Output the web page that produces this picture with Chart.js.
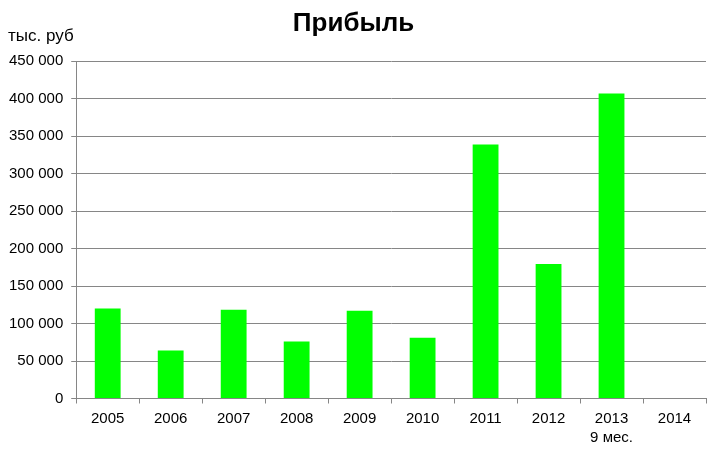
<!DOCTYPE html>
<html>
<head>
<meta charset="utf-8">
<script src="https://cdn.jsdelivr.net/npm/chart.js@4"></script>
<style>
  html, body { margin: 0; padding: 0; background: #fff; }
  #wrap { width: 720px; height: 457px; }
</style>
</head>
<body>
<div id="wrap"><canvas id="chart"></canvas></div>
<script>
var years = ['2005', '2006', '2007', '2008', '2009', '2010', '2011', '2012', ['2013', '9 мес.'], '2014'];
var profit = [120000, 64000, 118500, 76000, 117000, 81000, 339000, 179500, 407000, 0];
var unitLabel = 'тыс. руб';
var chartTitle = 'Прибыль';

var gridColor = '#868686';
var fontFamily = '"Liberation Sans", Arial, sans-serif';

// подпись единиц над осью Y
var unitPlugin = {
    id: 'unitLabel',
    afterDraw: function (chart) {
        var ctx = chart.ctx;
        ctx.save();
        ctx.font = '17px ' + fontFamily;
        ctx.fillStyle = '#000';
        ctx.textAlign = 'left';
        ctx.textBaseline = 'middle';
        ctx.fillText(unitLabel, 8, chart.chartArea.top - 25);
        ctx.restore();
    }
};

function fmt(v) {
    return String(v).replace(/\B(?=(\d{3})+(?!\d))/g, ' ');
}

var ctx = document.getElementById('chart');
var myChart = new Chart(ctx, {
    type: 'bar',
    data: {
        labels: years,
        datasets: [{
            label: chartTitle,
            data: profit,
            backgroundColor: '#00ff00',
            borderWidth: 0,
            barPercentage: 0.41,
            categoryPercentage: 1
        }]
    },
    options: {
        responsive: true,
        maintainAspectRatio: false,
        animation: false,
        layout: { padding: { left: 1, right: 14, top: 0, bottom: 4 } },
        plugins: {
            legend: { display: false },
            tooltip: { enabled: false },
            title: {
                display: true,
                text: chartTitle,
                color: '#000',
                font: { family: fontFamily, size: 26, weight: 'bold' },
                padding: { top: 8, bottom: 22 }
            }
        },
        scales: {
            x: {
                grid: {
                    drawOnChartArea: false,
                    drawTicks: true,
                    tickLength: 5,
                    color: gridColor,
                    offset: true
                },
                border: { color: gridColor },
                ticks: {
                    color: '#000',
                    padding: 6,
                    maxRotation: 0,
                    autoSkip: false,
                    font: { family: fontFamily, size: 15, lineHeight: 1.25 }
                }
            },
            y: {
                min: 0,
                max: 450000,
                grid: {
                    color: gridColor,
                    tickLength: 5
                },
                border: { color: gridColor },
                ticks: {
                    stepSize: 50000,
                    color: '#000',
                    padding: 8,
                    font: { family: fontFamily, size: 15 },
                    callback: function (v) { return fmt(v); }
                }
            }
        }
    },
    plugins: [unitPlugin]
});
</script>
</body>
</html>
